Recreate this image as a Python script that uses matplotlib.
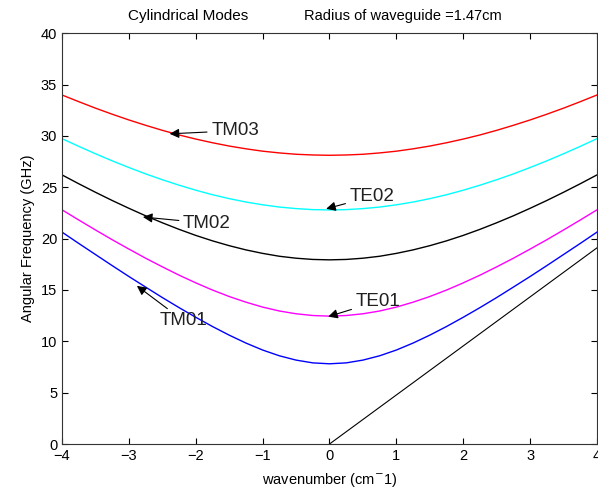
import matplotlib
matplotlib.use('Agg')
import matplotlib.pyplot as plt

# wavenumber samples (cm^-1)
k = [-4.0, -3.75, -3.5, -3.25, -3.0, -2.75, -2.5, -2.25, -2.0, -1.75, -1.5,
     -1.25, -1.0, -0.75, -0.5, -0.25, 0.0, 0.25, 0.5, 0.75, 1.0, 1.25, 1.5,
     1.75, 2.0, 2.25, 2.5, 2.75, 3.0, 3.25, 3.5, 3.75, 4.0]

# frequencies (GHz)
tm01 = [20.63, 19.53, 18.45, 17.37, 16.31, 15.28, 14.26, 13.28, 12.34, 11.44,
        10.60, 9.83, 9.15, 8.59, 8.17, 7.90, 7.81, 7.90, 8.17, 8.59, 9.15,
        9.83, 10.60, 11.44, 12.34, 13.28, 14.26, 15.28, 16.31, 17.37, 18.45,
        19.53, 20.63]
te01 = [22.80, 21.81, 20.84, 19.89, 18.98, 18.09, 17.25, 16.44, 15.69, 14.99,
        14.36, 13.81, 13.33, 12.95, 12.68, 12.51, 12.45, 12.51, 12.68, 12.95,
        13.33, 13.81, 14.36, 14.99, 15.69, 16.44, 17.25, 18.09, 18.98, 19.89,
        20.84, 21.81, 22.80]
tm02 = [26.20, 25.34, 24.51, 23.71, 22.95, 22.22, 21.54, 20.90, 20.31, 19.78,
        19.31, 18.90, 18.56, 18.28, 18.09, 17.97, 17.93, 17.97, 18.09, 18.28,
        18.56, 18.90, 19.31, 19.78, 20.31, 20.90, 21.54, 22.22, 22.95, 23.71,
        24.51, 25.34, 26.20]
te02 = [29.73, 28.98, 28.26, 27.57, 26.92, 26.30, 25.73, 25.20, 24.71, 24.27,
        23.89, 23.56, 23.29, 23.07, 22.92, 22.82, 22.79, 22.82, 22.92, 23.07,
        23.29, 23.56, 23.89, 24.27, 24.71, 25.20, 25.73, 26.30, 26.92, 27.57,
        28.26, 28.98, 29.73]
tm03 = [33.98, 33.33, 32.70, 32.11, 31.55, 31.03, 30.54, 30.09, 29.69, 29.33,
        29.01, 28.74, 28.51, 28.34, 28.21, 28.14, 28.11, 28.14, 28.21, 28.34,
        28.51, 28.74, 29.01, 29.33, 29.69, 30.09, 30.54, 31.03, 31.55, 32.11,
        32.70, 33.33, 33.98]

# light line
light_k = [0.0, 4.0]
light_f = [0.0, 19.1]

# label text, arrow tip, text position
labels = [
    ('TM03', (-2.39, 30.2), (-1.77, 30.5)),
    ('TE02', (-0.05, 22.9), (0.30, 24.1)),
    ('TM02', (-2.79, 22.1), (-2.19, 21.5)),
    ('TE01', (-0.02, 12.4), (0.39, 13.9)),
    ('TM01', (-2.88, 15.4), (-2.54, 12.0)),
]

plt.rcParams['font.family'] = ['Liberation Sans', 'DejaVu Sans']

fig = plt.figure(figsize=(5.98, 4.95), dpi=100)
ax = fig.add_axes([0.1037, 0.103, 0.8946, 0.830])

ax.plot(k, tm03, color='#ff0000', lw=1)
ax.plot(k, te02, color='#00ffff', lw=1)
ax.plot(k, tm02, color='k', lw=1)
ax.plot(k, te01, color='#ff00ff', lw=1)
ax.plot(k, tm01, color='#0000ff', lw=1)
ax.plot(light_k, light_f, color='k', lw=0.8)

for txt, tip, pos in labels:
    ax.annotate(txt, xy=tip, xytext=pos, fontsize=13.5, ha='left', va='center',
                color='#202020',
                arrowprops=dict(arrowstyle='-|>', color='k', lw=0.8,
                                mutation_scale=14, shrinkA=1, shrinkB=0))

ax.set_xlim(-4, 4)
ax.set_ylim(0, 40)
ax.set_xticks(range(-4, 5))
ax.set_yticks(range(0, 41, 5))
ax.tick_params(direction='in', length=4, top=True, right=True,
               labelsize=10.5, width=0.8)
for s in ax.spines.values():
    s.set_linewidth(0.8)
    s.set_color('#333333')

# title in two pieces, like the original
fig.text(188.5 / 598, 1 - 16 / 495, 'Cylindrical Modes', fontsize=11,
         ha='center', va='center')
fig.text(403 / 598, 1 - 16 / 495, 'Radius of waveguide =1.47cm', fontsize=10.5,
         ha='center', va='center')
ax.set_xlabel(r'wavenumber (cm$^{-}$1)', fontsize=10.5, labelpad=6)
ax.set_ylabel('Angular Frequency (GHz)', fontsize=10.5, labelpad=4)

fig.savefig('out.png', dpi=100)
